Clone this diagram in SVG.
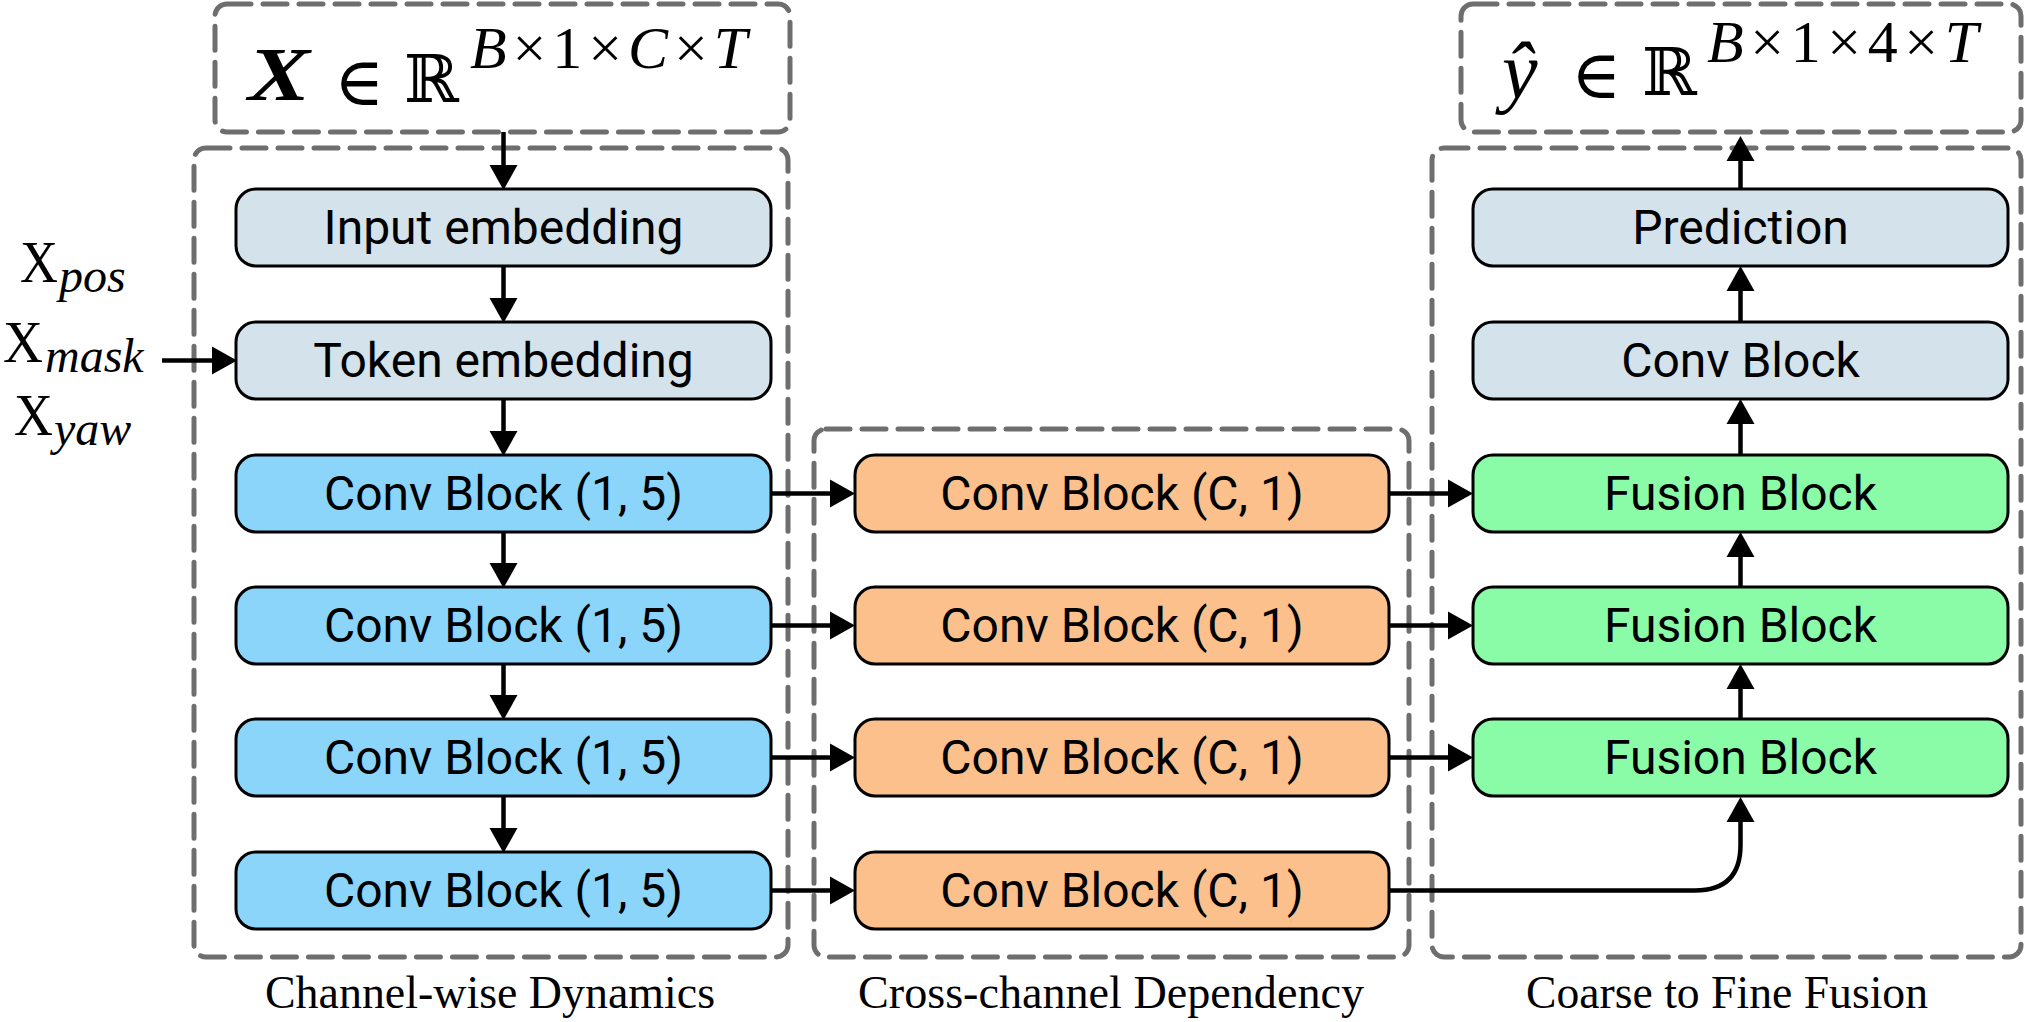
<svg xmlns="http://www.w3.org/2000/svg" width="2024" height="1022" viewBox="0 0 2024 1022">
<style>
.grp{fill:none;stroke:#6e6e6e;stroke-width:5;stroke-dasharray:24 12;stroke-linecap:round}
.node{stroke:#000;stroke-width:3}
.gray{fill:#d4e3eb}
.blue{fill:#8bd5fa}
.orange{fill:#fbc08b}
.green{fill:#8afba7}
.lbl{font-family:Roboto,"Liberation Sans",sans-serif;font-size:48px;fill:#000;text-anchor:middle}
.cap{font-family:"Liberation Serif","DejaVu Serif",serif;font-size:46px;fill:#000;text-anchor:middle}
.conn{fill:none;stroke:#000;stroke-width:4.5}
.m{font-family:"Liberation Serif","DejaVu Serif",serif;fill:#000}
.ms{font-family:"DejaVu Serif","DejaVu Sans",serif;fill:#000}
</style>
<defs>
<marker id="ah" markerUnits="userSpaceOnUse" markerWidth="26" markerHeight="30" refX="0" refY="14" orient="auto" overflow="visible">
<path d="M0,0 L25,14 L0,28 z" fill="#000"/>
</marker>
</defs>
<rect width="2024" height="1022" fill="#fff"/>

<g id="groups">
<rect id="input-box" class="grp" x="215" y="4" width="575" height="128" rx="12"/>
<rect id="output-box" class="grp" x="1461" y="4" width="560" height="128" rx="12"/>
<rect id="group-channel" class="grp" x="194" y="148" width="594" height="809" rx="12"/>
<rect id="group-cross" class="grp" x="814" y="429" width="595" height="528" rx="12"/>
<rect id="group-fusion" class="grp" x="1432" y="148" width="589" height="809" rx="12"/>
</g>

<g id="math-input">
<text class="m" x="248" y="100" font-size="76" font-weight="bold" font-style="italic" textLength="62" lengthAdjust="spacingAndGlyphs">X</text>
<text class="ms" x="334" y="105" font-size="68">∈</text>
<text class="ms" x="404" y="102" font-size="66">ℝ</text>
<text class="m" x="470" y="68" font-size="60" textLength="277" lengthAdjust="spacing"><tspan font-style="italic">B</tspan>×1×<tspan font-style="italic">C</tspan>×<tspan font-style="italic">T</tspan></text>
</g>

<g id="math-output">
<text class="m" x="1502" y="98" font-size="80" font-style="italic">ŷ</text>
<text class="ms" x="1571" y="98" font-size="68">∈</text>
<text class="ms" x="1642" y="95" font-size="66">ℝ</text>
<text class="m" x="1707" y="62" font-size="60" textLength="271" lengthAdjust="spacing"><tspan font-style="italic">B</tspan>×1×4×<tspan font-style="italic">T</tspan></text>
</g>

<g id="side-inputs">
<text class="m" x="20" y="282" font-size="60" textLength="38" lengthAdjust="spacingAndGlyphs">X</text><text class="m" x="59" y="292" font-size="48" font-style="italic">pos</text>
<text class="m" x="3" y="362" font-size="60" textLength="40" lengthAdjust="spacingAndGlyphs">X</text><text class="m" x="45" y="372" font-size="48" font-style="italic">mask</text>
<text class="m" x="14" y="435" font-size="60" textLength="39" lengthAdjust="spacingAndGlyphs">X</text><text class="m" x="54" y="445" font-size="48" font-style="italic">yaw</text>
</g>

<g id="connectors">
<path class="conn" d="M503.5,132 V165" marker-end="url(#ah)"/>
<path class="conn" d="M503.5,266 V298" marker-end="url(#ah)"/>
<path class="conn" d="M503.5,399 V431" marker-end="url(#ah)"/>
<path class="conn" d="M503.5,532 V563" marker-end="url(#ah)"/>
<path class="conn" d="M503.5,664 V695" marker-end="url(#ah)"/>
<path class="conn" d="M503.5,796 V828" marker-end="url(#ah)"/>
<path class="conn" d="M162,360.5 H212" marker-end="url(#ah)"/>
<path class="conn" d="M772,493.5 H830" marker-end="url(#ah)"/>
<path class="conn" d="M772,625.5 H830" marker-end="url(#ah)"/>
<path class="conn" d="M772,757.5 H830" marker-end="url(#ah)"/>
<path class="conn" d="M772,890.5 H830" marker-end="url(#ah)"/>
<path class="conn" d="M1389,493.5 H1448" marker-end="url(#ah)"/>
<path class="conn" d="M1389,625.5 H1448" marker-end="url(#ah)"/>
<path class="conn" d="M1389,757.5 H1448" marker-end="url(#ah)"/>
<path class="conn" d="M1389,890.5 H1695 Q1740.5,890.5 1740.5,845 V822" marker-end="url(#ah)"/>
<path class="conn" d="M1740.5,719 V689" marker-end="url(#ah)"/>
<path class="conn" d="M1740.5,587 V557" marker-end="url(#ah)"/>
<path class="conn" d="M1740.5,455 V424" marker-end="url(#ah)"/>
<path class="conn" d="M1740.5,322 V291" marker-end="url(#ah)"/>
<path class="conn" d="M1740.5,189 V161" marker-end="url(#ah)"/>
</g>

<g id="n-input-embedding"><rect class="node gray" x="236" y="189" width="535" height="77" rx="20"/><text class="lbl" x="503.5" y="244">Input embedding</text></g>
<g id="n-token-embedding"><rect class="node gray" x="236" y="322" width="535" height="77" rx="20"/><text class="lbl" x="503.5" y="377">Token embedding</text></g>
<g id="n-conv15-1"><rect class="node blue" x="236" y="455" width="535" height="77" rx="20"/><text class="lbl" x="503.5" y="510">Conv Block (1, 5)</text></g>
<g id="n-conv15-2"><rect class="node blue" x="236" y="587" width="535" height="77" rx="20"/><text class="lbl" x="503.5" y="642">Conv Block (1, 5)</text></g>
<g id="n-conv15-3"><rect class="node blue" x="236" y="719" width="535" height="77" rx="20"/><text class="lbl" x="503.5" y="774">Conv Block (1, 5)</text></g>
<g id="n-conv15-4"><rect class="node blue" x="236" y="852" width="535" height="77" rx="20"/><text class="lbl" x="503.5" y="907">Conv Block (1, 5)</text></g>

<g id="n-convc1-1"><rect class="node orange" x="855" y="455" width="534" height="77" rx="20"/><text class="lbl" x="1122" y="510">Conv Block (C, 1)</text></g>
<g id="n-convc1-2"><rect class="node orange" x="855" y="587" width="534" height="77" rx="20"/><text class="lbl" x="1122" y="642">Conv Block (C, 1)</text></g>
<g id="n-convc1-3"><rect class="node orange" x="855" y="719" width="534" height="77" rx="20"/><text class="lbl" x="1122" y="774">Conv Block (C, 1)</text></g>
<g id="n-convc1-4"><rect class="node orange" x="855" y="852" width="534" height="77" rx="20"/><text class="lbl" x="1122" y="907">Conv Block (C, 1)</text></g>

<g id="n-prediction"><rect class="node gray" x="1473" y="189" width="535" height="77" rx="20"/><text class="lbl" x="1740.5" y="244">Prediction</text></g>
<g id="n-conv-block"><rect class="node gray" x="1473" y="322" width="535" height="77" rx="20"/><text class="lbl" x="1740.5" y="377">Conv Block</text></g>
<g id="n-fusion-1"><rect class="node green" x="1473" y="455" width="535" height="77" rx="20"/><text class="lbl" x="1740.5" y="510">Fusion Block</text></g>
<g id="n-fusion-2"><rect class="node green" x="1473" y="587" width="535" height="77" rx="20"/><text class="lbl" x="1740.5" y="642">Fusion Block</text></g>
<g id="n-fusion-3"><rect class="node green" x="1473" y="719" width="535" height="77" rx="20"/><text class="lbl" x="1740.5" y="774">Fusion Block</text></g>

<g id="captions">
<text class="cap" x="490" y="1008" textLength="450" lengthAdjust="spacingAndGlyphs">Channel-wise Dynamics</text>
<text class="cap" x="1111" y="1008" textLength="506" lengthAdjust="spacingAndGlyphs">Cross-channel Dependency</text>
<text class="cap" x="1727" y="1008" textLength="402" lengthAdjust="spacingAndGlyphs">Coarse to Fine Fusion</text>
</g>
</svg>
